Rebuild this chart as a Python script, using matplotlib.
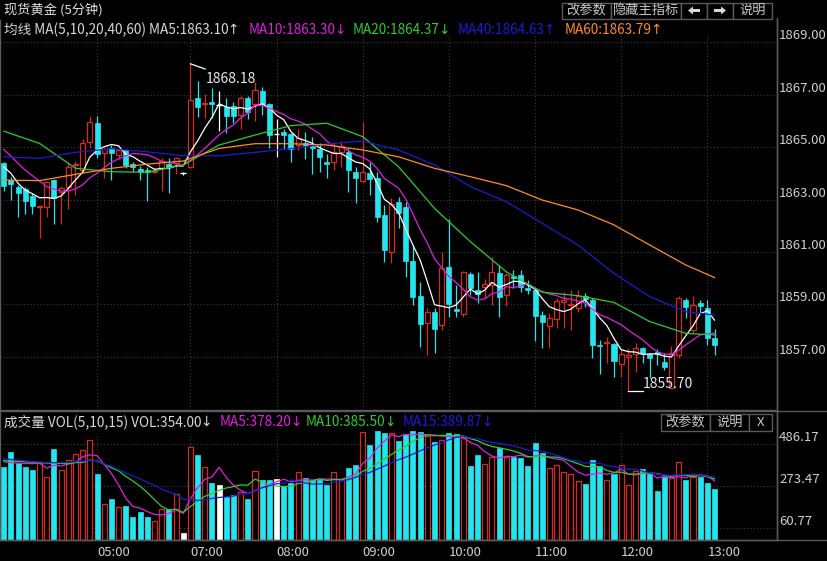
import numpy as np
import pandas as pd
import matplotlib
matplotlib.use('Agg')
import matplotlib.pyplot as plt
from matplotlib.patches import Rectangle, Polygon
from matplotlib.lines import Line2D

plt.rcParams['font.family'] = ['Noto Sans CJK SC', 'DejaVu Sans']

# 5-minute bars
opens = [1864.38, 1863.74, 1863.46, 1863.40, 1863.14, 1862.72, 1862.70, 1863.74, 1863.30, 1863.49,
         1864.30, 1864.12, 1865.18, 1865.91, 1864.76, 1864.98, 1864.70, 1864.89, 1864.34, 1864.15,
         1864.12, 1864.04, 1864.21, 1864.34, 1864.38, 1864.00, 1864.25, 1866.86, 1866.63, 1866.73,
         1866.61, 1866.54, 1866.58, 1866.22, 1866.89, 1866.63, 1867.14, 1866.63, 1865.49, 1865.59,
         1865.49, 1865.08, 1865.14, 1865.05, 1864.93, 1864.44, 1864.42, 1864.82, 1864.82, 1864.06,
         1863.70, 1864.00, 1863.83, 1862.41, 1861.01, 1862.92, 1862.73, 1860.65, 1859.33, 1858.30,
         1858.69, 1858.21, 1860.44, 1858.82, 1858.62, 1860.14, 1859.54, 1859.67, 1859.74, 1860.18,
         1859.35, 1860.09, 1860.12, 1859.63, 1859.54, 1858.59, 1858.18, 1858.44, 1859.10, 1858.97,
         1858.84, 1859.30, 1859.16, 1857.45, 1857.51, 1857.48, 1856.71, 1857.00, 1857.10, 1857.32,
         1857.10, 1857.19, 1856.81, 1855.80, 1857.06, 1859.16, 1858.02, 1859.04, 1858.87, 1857.73]
highs = [1864.44, 1863.87, 1863.55, 1863.49, 1863.23, 1862.79, 1863.70, 1863.78, 1863.50, 1864.44,
         1864.47, 1865.31, 1866.19, 1866.19, 1864.95, 1865.08, 1864.95, 1864.91, 1864.42, 1864.28,
         1864.25, 1864.20, 1864.60, 1864.57, 1864.63, 1864.05, 1868.18, 1867.52, 1867.01, 1867.27,
         1867.14, 1866.89, 1866.73, 1866.95, 1866.95, 1867.50, 1867.31, 1866.67, 1866.07, 1865.69,
         1865.52, 1865.69, 1865.56, 1865.40, 1865.14, 1864.72, 1865.18, 1865.23, 1864.95, 1864.25,
         1865.97, 1864.42, 1864.06, 1862.79, 1863.04, 1863.11, 1862.92, 1861.26, 1859.86, 1858.84,
         1858.84, 1861.01, 1862.25, 1859.74, 1860.27, 1860.24, 1860.24, 1859.96, 1860.82, 1860.50,
         1860.18, 1860.31, 1860.31, 1859.93, 1859.61, 1858.74, 1858.65, 1859.25, 1859.46, 1859.54,
         1859.54, 1859.45, 1859.23, 1857.64, 1857.76, 1857.54, 1857.26, 1857.32, 1857.53, 1857.36,
         1857.13, 1857.28, 1857.13, 1857.40, 1859.33, 1859.23, 1859.33, 1859.16, 1859.16, 1858.06]
lows = [1863.32, 1862.97, 1862.34, 1862.43, 1862.46, 1861.54, 1862.34, 1862.05, 1862.05, 1862.64,
        1863.17, 1864.03, 1864.95, 1864.57, 1863.83, 1863.74, 1864.54, 1864.19, 1864.06, 1863.74,
        1862.95, 1864.00, 1863.32, 1863.26, 1863.96, 1863.95, 1864.20, 1866.16, 1866.10, 1866.10,
        1865.61, 1865.55, 1865.91, 1865.69, 1866.07, 1866.00, 1866.22, 1864.95, 1864.63, 1864.94,
        1864.44, 1864.89, 1864.54, 1863.96, 1864.06, 1863.83, 1864.12, 1864.25, 1863.30, 1862.85,
        1863.65, 1863.17, 1862.15, 1860.63, 1860.56, 1861.90, 1860.05, 1858.97, 1857.38, 1857.06,
        1857.13, 1858.02, 1858.53, 1858.53, 1858.53, 1859.35, 1859.04, 1859.25, 1858.97, 1858.53,
        1858.95, 1859.61, 1859.48, 1859.38, 1857.60, 1857.32, 1857.32, 1858.11, 1858.11, 1858.02,
        1858.72, 1858.90, 1856.94, 1856.33, 1856.75, 1856.24, 1856.24, 1855.70, 1856.43, 1856.75,
        1856.18, 1856.68, 1856.49, 1855.75, 1856.94, 1858.46, 1857.89, 1858.65, 1857.45, 1857.06]
closes = [1863.53, 1863.60, 1863.26, 1862.95, 1862.76, 1862.76, 1863.65, 1863.07, 1863.43, 1864.23,
          1864.36, 1865.14, 1865.94, 1864.72, 1864.91, 1864.79, 1864.89, 1864.32, 1864.25, 1864.06,
          1864.04, 1864.10, 1864.47, 1864.25, 1864.57, 1864.00, 1866.80, 1866.54, 1866.68, 1866.64,
          1866.61, 1866.20, 1866.20, 1866.89, 1866.35, 1867.18, 1866.63, 1865.46, 1865.49, 1865.46,
          1864.93, 1865.33, 1865.04, 1864.95, 1864.63, 1864.34, 1864.82, 1865.05, 1864.12, 1863.83,
          1864.04, 1863.78, 1862.34, 1861.07, 1862.81, 1862.47, 1860.65, 1859.29, 1858.23, 1858.69,
          1858.06, 1860.37, 1859.00, 1858.74, 1860.22, 1859.61, 1859.38, 1859.76, 1860.22, 1859.29,
          1860.12, 1860.02, 1859.67, 1859.54, 1858.56, 1858.31, 1858.46, 1859.12, 1859.16, 1859.03,
          1859.33, 1859.22, 1857.44, 1857.40, 1857.57, 1856.85, 1857.09, 1857.05, 1857.32, 1857.13,
          1856.94, 1857.10, 1856.62, 1857.15, 1859.23, 1858.91, 1858.97, 1858.95, 1857.70, 1857.45]
volumes = [372, 447, 388, 372, 355, 388, 318, 459, 355, 405,
           435, 456, 506, 335, 182, 209, 167, 174, 120, 145,
           120, 98, 158, 157, 232, 35, 469, 431, 372, 291,
           279, 217, 229, 246, 209, 350, 304, 304, 309, 274,
           287, 343, 313, 304, 304, 279, 346, 304, 363, 380,
           548, 481, 551, 540, 540, 503, 535, 550, 548, 526,
           498, 506, 540, 536, 514, 375, 431, 383, 422, 464,
           422, 422, 417, 375, 491, 439, 364, 380, 346, 334,
           299, 284, 405, 375, 304, 334, 380, 279, 351, 358,
           334, 250, 318, 313, 393, 304, 321, 321, 291, 259]

tick_pos = [13, 26, 38, 50, 62, 74, 86, 98]
tick_labels = ['05:00', '07:00', '08:00', '09:00', '10:00', '11:00', '12:00', '13:00']
price_ticks = [1857, 1859, 1861, 1863, 1865, 1867, 1869]
vol_ticks = [60.77, 273.47, 486.17]

ma5_head = [1864.25, 1864.00, 1863.62, 1863.36]
ma10_head = [1864.91, 1864.66, 1864.38, 1864.12, 1863.91, 1863.70, 1863.49, 1863.40, 1863.32]
ma_idx = [0, 5, 10, 15, 20, 25, 30, 35, 40, 45, 50, 55, 60, 65, 70, 75, 80, 85, 90, 95, 99]
ma20_pts = [1865.61, 1865.14, 1864.19, 1864.06, 1864.04, 1864.32, 1865.08, 1865.46, 1865.82, 1865.91,
            1865.40, 1864.25, 1862.66, 1861.39, 1860.24, 1859.46, 1859.33, 1859.07, 1858.34, 1857.89, 1857.83]
ma40_pts = [1864.63, 1864.57, 1864.80, 1864.94, 1864.82, 1864.67, 1864.67, 1864.80, 1864.94, 1865.12,
            1865.23, 1864.89, 1864.32, 1863.49, 1862.92, 1862.09, 1861.26, 1860.18, 1859.29, 1858.72, 1858.59]
ma60_pts = [1863.74, 1863.72, 1863.96, 1864.19, 1864.35, 1864.47, 1864.95, 1865.13, 1865.13, 1865.08,
            1864.89, 1864.63, 1864.19, 1863.87, 1863.53, 1862.98, 1862.60, 1862.03, 1861.26, 1860.50, 1860.02]
vma5_head = [397, 392, 389, 388]
vma10_head = [402, 400, 398, 396, 394, 392, 390, 389, 388]
vma15_head = [412, 408, 405, 401, 397, 395, 393, 392, 392, 393, 397, 400, 403, 402]

RED = '#d42a20'
CYAN = '#26e4ee'
MAG = '#e01ee0'
GRN = '#2fcc2f'
BLU = '#1c1cd2'
ORG = '#ff8c24'
TXT = '#d0d0d0'
EDGE = '#5a5a5a'
GRID = '#3c3c3c'

W, H = 827, 561


def fx(px):
    return px / W


def fy(py):
    return 1 - py / H


def ma_line(values, n, head):
    s = pd.Series(values, dtype=float).rolling(n).mean().to_numpy()
    s[:len(head)] = head
    return s


fig = plt.figure(figsize=(W / 100, H / 100), dpi=100, facecolor='black')
ax = fig.add_axes([0, fy(410), fx(777), (410 - 20) / H])
axv = fig.add_axes([0, fy(540), fx(777), (540 - 411) / H])

x = np.arange(len(closes))
o = np.array(opens)
h = np.array(highs)
l = np.array(lows)
c = np.array(closes)
v = np.array(volumes, dtype=float)
up = c > o
dn = c < o
fl = c == o
cols = np.where(up, RED, np.where(dn, CYAN, 'white'))

for a in (ax, axv):
    a.set_facecolor('black')
    a.set_xlim(-0.515, 107.7)
    for s in a.spines.values():
        s.set_color(EDGE)
        s.set_linewidth(1)
    a.spines['top'].set_visible(False)
    a.yaxis.tick_right()
    a.tick_params(length=0, colors=TXT, labelsize=9.5)

# price panel
ax.set_ylim(1854.966, 1869.851)
ax.set_yticks(price_ticks)
ax.set_yticklabels([f'{p:.2f}' for p in price_ticks])
ax.tick_params(axis='y', pad=1.5)
for t in ax.get_yticklabels():
    t.set_va('bottom')
ax.set_xticks([])
ax.hlines(price_ticks, -0.515, 107.7, colors=GRID, linestyles=(0, (1, 2)), lw=0.8, zorder=0)
ax.vlines(tick_pos, 1854.966, 1869.3, colors=GRID, linestyles=(0, (1, 2)), lw=0.8, zorder=0)

ax.vlines(x, l, h, colors=cols, lw=0.9, zorder=2)
ax.bar(x[dn], (o - c)[dn], bottom=c[dn], width=0.7, color=CYAN, edgecolor=CYAN, lw=0.5, zorder=3)
ax.bar(x[up], (c - o)[up], bottom=o[up], width=0.7, facecolor='black', edgecolor=RED, lw=0.9, zorder=3)
ax.hlines(c[fl], x[fl] - 0.38, x[fl] + 0.38, colors='white', lw=1, zorder=3)

ax.plot(x, ma_line(closes, 5, ma5_head), color='white', lw=0.9, zorder=4)
ax.plot(x, ma_line(closes, 10, ma10_head), color=MAG, lw=0.9, zorder=4)
ax.plot(ma_idx, ma20_pts, color=GRN, lw=0.9, zorder=4)
ax.plot(ma_idx, ma40_pts, color=BLU, lw=0.9, zorder=4)
ax.plot(ma_idx, ma60_pts, color=ORG, lw=0.9, zorder=4)

# max / min markers
imax = int(np.argmax(h))
imin = int(np.argmin(l))
ax.plot([imax, imax + 2.05], [h[imax], h[imax] - 0.2], color='white', lw=0.9, zorder=5)
ax.text(imax + 2.2, h[imax] - 0.75, f'{h[imax]:.2f}', color='#e8e8e8', fontsize=10,
        va='baseline', ha='left', zorder=6)
ax.plot([imin, imin + 2.05], [l[imin], l[imin]], color='white', lw=0.9, zorder=5)
ax.text(imin + 2.05, l[imin] + 0.12, f'{l[imin]:.2f}', color='#e8e8e8', fontsize=10,
        va='baseline', ha='left', zorder=6)

# volume panel
axv.set_ylim(2.0, 652.2)
axv.set_yticks(vol_ticks)
axv.set_yticklabels([f'{t:.2f}' for t in vol_ticks])
axv.tick_params(axis='y', pad=1.5)
for t in axv.get_yticklabels():
    t.set_va('bottom')
axv.set_xticks(tick_pos)
axv.set_xticklabels(tick_labels)
axv.tick_params(axis='x', pad=4)
for t in axv.get_xticklabels():
    t.set_ha('left')
axv.hlines(vol_ticks, -0.515, 107.7, colors=GRID, linestyles=(0, (1, 2)), lw=0.8, zorder=0)
axv.vlines(tick_pos, 0, 540, colors=GRID, linestyles=(0, (1, 2)), lw=0.8, zorder=0)

axv.bar(x[dn], v[dn], width=0.7, color=CYAN, edgecolor=CYAN, lw=0.5, zorder=2)
axv.bar(x[fl], v[fl], width=0.7, color='white', edgecolor='white', lw=0.5, zorder=2)
axv.bar(x[up], v[up], width=0.7, facecolor='black', edgecolor=RED, lw=0.9, zorder=2)
axv.plot(x, ma_line(volumes, 5, vma5_head), color=MAG, lw=0.9, zorder=3)
axv.plot(x, ma_line(volumes, 10, vma10_head), color=GRN, lw=0.9, zorder=3)
axv.plot(x, ma_line(volumes, 15, vma15_head), color=BLU, lw=0.9, zorder=3)

# frame lines across the whole width
for yy in (410.5, 540):
    fig.add_artist(Line2D([0, 1], [fy(yy), fy(yy)], color=EDGE, lw=1))
fig.add_artist(Line2D([fx(777), fx(777)], [fy(540), fy(18)], color=EDGE, lw=1))

# header texts
fs = 9.5
fig.text(fx(4), fy(10), '现货黄金 (5分钟)', color='#e0e0e0', fontsize=fs, va='center')
renderer = fig.canvas.get_renderer()


def legend_row(items, py, size):
    # arrows come from DejaVu Sans, the CJK font only has a full-width one
    for px, s, col in items:
        t = fig.text(fx(px), fy(py), s[:-1], color=col, fontsize=size, va='center')
        bb = t.get_window_extent(renderer=renderer)
        fig.text((bb.x1 - 1.5) / W, fy(py), s[-1], color=col, fontsize=size,
                 family='DejaVu Sans', va='center')


legend_main = [(4, '均线 MA(5,10,20,40,60) MA5:1863.10↑', '#d8d8d8'),
               (249, 'MA10:1863.30↓', MAG),
               (353, 'MA20:1864.37↓', GRN),
               (458, 'MA40:1864.63↑', BLU),
               (565, 'MA60:1863.79↑', ORG)]
legend_row(legend_main, 30, 9.8)
legend_vol = [(4, '成交量 VOL(5,10,15) VOL:354.00↓', '#d8d8d8'),
              (220, 'MA5:378.20↓', MAG),
              (306, 'MA10:385.50↓', GRN),
              (403, 'MA15:389.87↓', BLU)]
legend_row(legend_vol, 421.5, 9.8)


def button(x0, x1, y0, y1, label=None):
    fig.add_artist(Rectangle((fx(x0), fy(y1)), fx(x1) - fx(x0), fy(y0) - fy(y1),
                             facecolor='black', edgecolor=EDGE, lw=1))
    if label:
        fig.text(fx((x0 + x1) / 2), fy((y0 + y1) / 2), label, color='#c8c8c8',
                 fontsize=fs, ha='center', va='center')


button(562, 611, 2.5, 18.5, '改参数')
button(611, 681, 2.5, 18.5, '隐藏主指标')
button(681, 707, 2.5, 18.5)
button(707, 733, 2.5, 18.5)
button(733, 772, 2.5, 18.5, '说明')


def arrow(cx, cy, d):
    pts = [(cx - 6 * d, cy), (cx - 1 * d, cy - 4), (cx - 1 * d, cy - 1.5), (cx + 6 * d, cy - 1.5),
           (cx + 6 * d, cy + 1.5), (cx - 1 * d, cy + 1.5), (cx - 1 * d, cy + 4)]
    fig.add_artist(Polygon([(fx(a), fy(b)) for a, b in pts], closed=True,
                           facecolor='#d8d8d8', edgecolor='none'))


arrow(694, 10.5, 1)
arrow(720, 10.5, -1)

button(661, 710, 414, 431, '改参数')
button(710, 749, 414, 431, '说明')
button(749, 772, 414, 431, 'X')

fig.savefig('out.png', dpi=100, facecolor='black')
